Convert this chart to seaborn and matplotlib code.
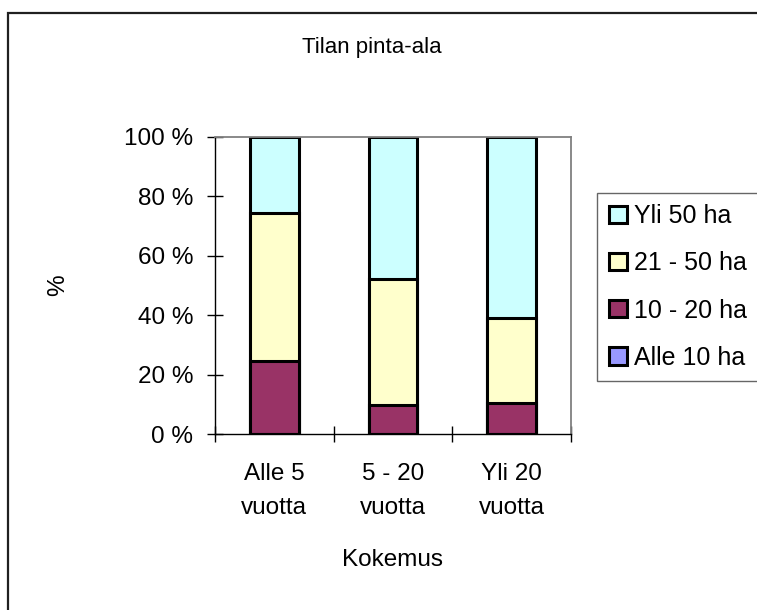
import pandas as pd
import seaborn as sns
import matplotlib.pyplot as plt
from matplotlib.patches import Rectangle

# chart data (percent of farms per experience class)
kokemus = ["Alle 5\nvuotta", "5 - 20\nvuotta", "Yli 20\nvuotta"]
alle_10 = [0.0, 0.0, 0.0]
ha_10_20 = [24.5, 9.7, 10.5]
ha_21_50 = [49.8, 42.6, 28.7]
yli_50 = [25.7, 47.7, 60.8]

series = ["Alle 10 ha", "10 - 20 ha", "21 - 50 ha", "Yli 50 ha"]
colors = {"Yli 50 ha": "#CCFFFF", "21 - 50 ha": "#FFFFCC",
          "10 - 20 ha": "#993366", "Alle 10 ha": "#9999FF"}

# cumulative tops so the stacks can be drawn back to front
rows = []
for i, k in enumerate(kokemus):
    total = 0
    for name, vals in zip(series, [alle_10, ha_10_20, ha_21_50, yli_50]):
        total += vals[i]
        rows.append({"Kokemus": k, "Pinta-ala": name, "top": total})
df = pd.DataFrame(rows)

sns.set_style("white")
plt.rcParams["font.family"] = ["Liberation Sans", "DejaVu Sans"]
plt.rcParams["text.color"] = "black"
plt.rcParams["xtick.color"] = "black"
plt.rcParams["ytick.color"] = "black"

fig = plt.figure(figsize=(7.57, 6.10), dpi=100)
ax = fig.add_axes([0.284, 0.288, 0.47, 0.488])

order = ["Yli 50 ha", "21 - 50 ha", "10 - 20 ha", "Alle 10 ha"]
sns.barplot(data=df, x="Kokemus", y="top", hue="Pinta-ala", hue_order=order,
            order=kokemus, palette=colors, dodge=False, width=0.41,
            saturation=1, edgecolor="black", linewidth=2.2, ax=ax)

ax.set_xlim(-0.5, 2.5)
ax.set_ylim(0, 100)
ax.set_yticks([0, 20, 40, 60, 80, 100])
ax.set_yticklabels([f"{v} %" for v in range(0, 101, 20)], fontsize=17.5)
ax.set_xticks([-0.5, 0.5, 1.5, 2.5])
ax.set_xticklabels([])
ax.set_xticks([0, 1, 2], minor=True)
ax.set_xticklabels(kokemus, minor=True, fontsize=17.5, linespacing=1.7)
ax.tick_params(axis="y", direction="inout", length=11, width=1, pad=10, left=True)
ax.tick_params(axis="x", which="major", direction="inout", length=11, width=1, bottom=True)
ax.tick_params(axis="x", which="minor", length=0, pad=21)
ax.set_xlabel("")
ax.set_ylabel("")

for s in ["top", "right"]:
    ax.spines[s].set_color("#808080")
    ax.spines[s].set_linewidth(1.3)
for s in ["left", "bottom"]:
    ax.spines[s].set_color("black")
    ax.spines[s].set_linewidth(1.0)

handles, labels = ax.get_legend_handles_labels()
ax.legend(handles, labels, loc="upper left", bbox_to_anchor=(0.789, 0.684),
          bbox_transform=fig.transFigure, fontsize=18, frameon=True,
          fancybox=False, edgecolor="#404040", handlelength=0.72,
          handleheight=0.68, handletextpad=0.3, labelspacing=0.93,
          borderpad=0.45, borderaxespad=0)

fig.text(372 / 757, 1 - 48 / 610, "Tilan pinta-ala", ha="center", va="center", fontsize=16)
fig.text(392 / 757, 1 - 560 / 610, "Kokemus", ha="center", va="center", fontsize=17.5)
fig.text(58 / 757, 1 - 285 / 610, "%", ha="center", va="center", rotation=90, fontsize=17.5)

# outer chart frame (only top and left edges fall inside the image)
fig.patches.append(Rectangle((7.5 / 757, -1), 3, 2 - 12.5 / 610, fill=False,
                             edgecolor="#202020", linewidth=1.6,
                             transform=fig.transFigure, figure=fig))

fig.savefig("out.png", dpi=100)
